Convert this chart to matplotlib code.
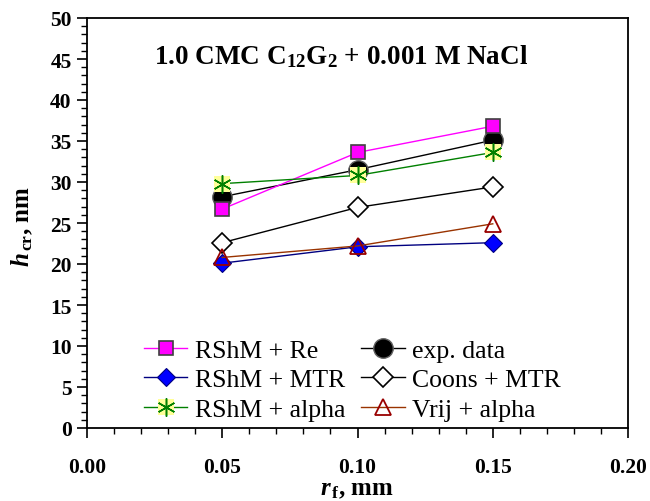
import matplotlib
matplotlib.use("Agg")
import matplotlib.pyplot as plt
from matplotlib.legend_handler import HandlerTuple
from matplotlib.ticker import MultipleLocator, FormatStrFormatter

plt.rcParams['font.family'] = ['Liberation Serif', 'DejaVu Serif']
plt.rcParams['mathtext.fontset'] = 'custom'
plt.rcParams['mathtext.rm'] = 'Liberation Serif:bold'
plt.rcParams['mathtext.it'] = 'Liberation Serif:italic:bold'
plt.rcParams['mathtext.bf'] = 'Liberation Serif:bold'

r_f = [0.05, 0.10, 0.15]
rshm_re = [26.7, 33.6, 36.8]
exp_data = [28.2, 31.5, 35.1]
rshm_mtr = [20.1, 22.1, 22.6]
coons_mtr = [22.6, 26.9, 29.4]
rshm_alpha = [29.8, 30.8, 33.6]
vrij_alpha = [20.8, 22.2, 24.9]

fig = plt.figure(figsize=(6.5, 5.02), dpi=100)
ax = fig.add_axes([87/650, 1 - 429/502, 541/650, 410/502])

l1, = ax.plot(r_f, rshm_re, '-', color='#FF00FF', lw=1.0, marker='s', ms=10,
              mfc='#FF00FF', mec='#404040', mew=1.2, zorder=5)
l2, = ax.plot(r_f, exp_data, '-', color='black', lw=1.0, marker='o', ms=14,
              mfc='black', mec='#606060', mew=1.0, zorder=4)
l3, = ax.plot(r_f, rshm_mtr, '-', color='#000080', lw=1.0, marker='D', ms=9,
              mfc='#0000FF', mec='#000080', mew=0.8, zorder=5)
l4, = ax.plot(r_f, coons_mtr, '-', color='black', lw=1.0, marker='D', ms=10,
              mfc='white', mec='black', mew=1.2, zorder=5)
l5a, = ax.plot(r_f, rshm_alpha, '-', color='#008000', lw=1.0, marker='s', ms=12,
               mfc='#FFFF99', mec='#FFFF99', mew=0, zorder=5)
l5b, = ax.plot(r_f, rshm_alpha, 'none', marker=(6, 2, 0), ms=13,
               mec='#008000', mew=1.1, zorder=6)
l6, = ax.plot(r_f, vrij_alpha, '-', color='#993300', lw=1.0, marker='^', ms=11,
              mfc='none', mec='#990000', mew=1.3, zorder=6)

ax.set_xlim(0, 0.2)
ax.set_ylim(0, 50)
ax.xaxis.set_major_locator(MultipleLocator(0.05))
ax.xaxis.set_minor_locator(MultipleLocator(0.01))
ax.yaxis.set_major_locator(MultipleLocator(5))
ax.yaxis.set_minor_locator(MultipleLocator(1))
ax.xaxis.set_major_formatter(FormatStrFormatter('%.2f'))
ax.tick_params(which='major', direction='out', length=7, width=1.2, labelsize=15.5, pad=14)
ax.tick_params(axis='y', which='major', pad=4)
ax.tick_params(which='minor', direction='out', length=4, width=1.0)
for lab in ax.get_xticklabels() + ax.get_yticklabels():
    lab.set_fontweight('bold')
for s in ax.spines.values():
    s.set_linewidth(1.3)

fig.text(0.5 * (87 + 628) / 650, 1 - 490 / 502, r'$r_{\,\mathrm{f}}$, mm', ha='center', va='center',
         fontsize=18, fontweight='bold')
fig.text(22 / 650, 1 - 226 / 502, r'$h_{\,\mathrm{cr}}$, nm', ha='center', va='center',
         fontsize=18, fontweight='bold', rotation=90)

ax.text(0.094, 45.4, r'1.0 CMC C$_{12}$G$_2$ + 0.001 M NaCl', ha='center', va='center',
        fontsize=19.5, fontweight='bold')

handles = [l1, l3, (l5a, l5b), l2, l4, l6]
labels = ['RShM + Re', 'RShM + MTR', 'RShM + alpha', 'exp. data', 'Coons + MTR', 'Vrij + alpha']
leg = ax.legend(handles, labels, ncol=2, loc='lower left', bbox_to_anchor=(0.081, -0.014),
                frameon=False, fontsize=18.5, handlelength=1.7, handletextpad=0.3,
                columnspacing=0.6, labelspacing=0.25, borderpad=0.0,
                handler_map={tuple: HandlerTuple(ndivide=1, pad=0)})

fig.savefig('out.png', dpi=100, facecolor='white')
